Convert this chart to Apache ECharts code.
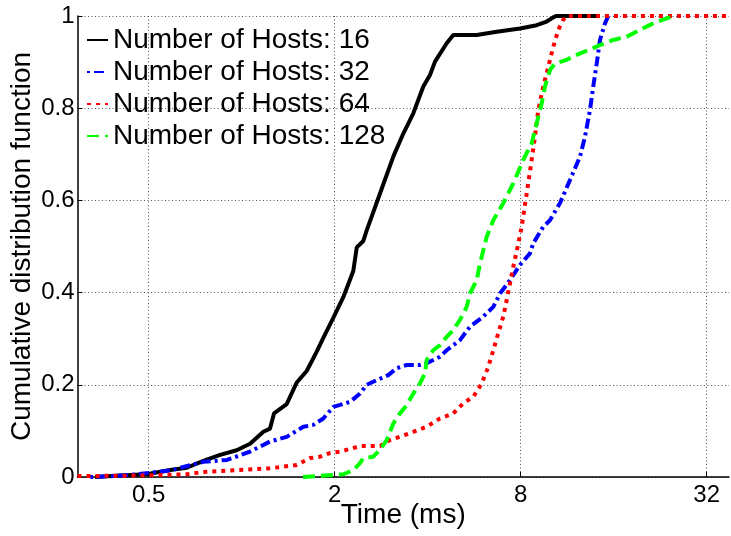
<!DOCTYPE html>
<html>
<head>
<meta charset="utf-8">
<script src="https://cdn.jsdelivr.net/npm/echarts@6/dist/echarts.min.js"></script>
<style>
html,body{margin:0;padding:0;background:#fff;}
#chart{width:731px;height:536px;}
</style>
</head>
<body>
<div id="chart"></div>
<script>
const seriesNames = ['Number of Hosts: 16','Number of Hosts: 32','Number of Hosts: 64','Number of Hosts: 128'];
const xTickValues = [0.5, 2, 8, 32];

const time16 = [0.335,0.404,0.493,0.586,0.664,0.751,0.851,0.963,1.064,1.175,1.235,1.272,1.398,1.507,1.623,1.749,1.837,1.979,2.132,2.297,2.357,2.475,2.539,2.803,3.095,3.335,3.593,3.871,4.069,4.224,4.608,4.841,5.764,6.69,7.96,9.01,9.71,10.2,10.41,14.45];
const cdf16  = [0,0.003,0.006,0.015,0.02,0.035,0.048,0.058,0.072,0.098,0.105,0.138,0.158,0.205,0.23,0.272,0.302,0.345,0.39,0.447,0.498,0.512,0.535,0.615,0.695,0.745,0.789,0.847,0.872,0.901,0.941,0.959,0.959,0.966,0.973,0.98,0.988,0.997,1,1];

const time32 = [0.323,0.389,0.457,0.586,0.751,0.896,1.064,1.235,1.398,1.583,1.705,1.837,1.979,2.242,2.415,2.539,2.735,2.982,3.175,3.421,3.777,3.970,4.384,4.608,5.088,5.482,6.054,6.522,6.856,7.387,7.96,8.574,8.788,9.467,9.952,10.72,11.55,12.45,12.92,13.41,13.74,14.1,14.45,15.0,15.37];
const cdf32  = [0,0.002,0.006,0.014,0.033,0.037,0.055,0.077,0.087,0.109,0.113,0.127,0.152,0.163,0.181,0.2,0.21,0.221,0.236,0.243,0.243,0.247,0.261,0.275,0.297,0.326,0.348,0.369,0.398,0.427,0.46,0.485,0.507,0.543,0.557,0.594,0.644,0.695,0.738,0.796,0.847,0.897,0.948,0.984,1.0];

const time64 = [0.294,0.435,0.517,0.664,0.751,0.963,1.235,1.507,1.664,1.793,1.931,2.081,2.415,2.803,3.020,3.506,3.970,4.384,4.841,5.215,5.619,5.982,6.284,6.522,6.77,7.027,7.208,7.387,7.571,7.766,8.06,8.366,8.684,8.9,9.12,9.467,9.827,10.2,10.59,10.99,11.27,37.8];
const cdf64  = [0.002,0.003,0.004,0.006,0.011,0.015,0.019,0.026,0.041,0.044,0.052,0.055,0.067,0.067,0.08,0.095,0.109,0.127,0.138,0.16,0.174,0.203,0.239,0.275,0.312,0.348,0.384,0.42,0.456,0.49,0.543,0.615,0.688,0.738,0.796,0.847,0.89,0.933,0.97,0.992,1,1];

const time128 = [1.579,2.132,2.297,2.415,2.475,2.667,2.803,2.947,3.095,3.254,3.421,3.593,3.777,3.92,3.97,4.17,4.384,4.608,4.841,5.088,5.349,5.482,5.764,5.907,6.21,6.522,7.027,7.571,8.157,8.684,9.01,9.355,9.588,9.952,10.33,11.27,12.45,13.41,14.45,15.95,17.63,19.46,21.49,23.75,24.95];
const cdf128  = [0,0.006,0.015,0.03,0.041,0.044,0.059,0.08,0.116,0.138,0.156,0.181,0.203,0.225,0.254,0.275,0.286,0.304,0.319,0.341,0.369,0.398,0.427,0.463,0.521,0.557,0.594,0.637,0.688,0.724,0.767,0.81,0.847,0.883,0.897,0.905,0.919,0.927,0.937,0.948,0.955,0.97,0.984,0.995,1];

function pairs(xs, ys){ return xs.map((x,i)=>[x, ys[i]]); }

const FONT = "'Liberation Sans', Arial, Helvetica, sans-serif";
const gridLine = {show:true, lineStyle:{color:'#555', width:1, type:[1,2.5]}};

const styles = [
  {color:'#000000', type:'solid'},
  {color:'#0000ff', type:[3,4,10,4]},
  {color:'#ff0000', type:[4,5]},
  {color:'#00ff00', type:[12,6]}
];
const datasets = [pairs(time16,cdf16), pairs(time32,cdf32), pairs(time64,cdf64), pairs(time128,cdf128)];

const chart = echarts.init(document.getElementById('chart'), null, {renderer:'canvas'});
chart.setOption({
  animation:false,
  backgroundColor:'#fff',
  textStyle:{fontFamily:FONT},
  grid:{left:77.5, right:2, top:16, bottom:59, containLabel:false, outerBoundsMode:'none'},
  legend:{
    orient:'vertical', left:86, top:26, padding:0, itemWidth:21, itemHeight:14, itemGap:4, itemTextGap:2,
    itemStyle:{opacity:0, borderWidth:0},
    textStyle:{fontSize:28, color:'#000', fontFamily:FONT},
    data:seriesNames
  },
  xAxis:{
    type:'log', logBase:2, min:0.294, max:37.8,
    name:'Time (ms)', nameLocation:'middle', nameGap:24, nameMoveOverlap:false,
    nameTextStyle:{fontSize:28, color:'#000', fontFamily:FONT},
    axisLine:{show:true, onZero:false, lineStyle:{color:'#000', width:1.5}},
    axisTick:{show:true, inside:true, length:5, customValues:xTickValues, lineStyle:{color:'#000'}},
    axisLabel:{fontSize:24, color:'#000', margin:6, fontFamily:FONT, customValues:xTickValues,
      formatter:function(v){ return String(v); }},
    splitLine:gridLine,
    minorTick:{show:false}
  },
  yAxis:{
    type:'value', min:0, max:1, interval:0.2,
    name:'Cumulative distribution function', nameLocation:'middle', nameGap:41, nameMoveOverlap:false,
    nameTextStyle:{fontSize:28, color:'#000', fontFamily:FONT},
    axisLine:{show:true, lineStyle:{color:'#000', width:1.5}},
    axisTick:{show:true, inside:true, length:5, lineStyle:{color:'#000'}},
    axisLabel:{fontSize:24, color:'#000', margin:3, fontFamily:FONT,
      formatter:function(v){ return String(Math.round(v*10)/10); }},
    splitLine:gridLine
  },
  series: seriesNames.map((n,i)=>({
    name:n, type:'line', data:datasets[i], symbol:'none', smooth:false,
    clip:true,
    lineStyle:{color:styles[i].color, width:4, type:styles[i].type, cap:'butt'},
    itemStyle:{color:styles[i].color}
  }))
});
</script>
</body>
</html>
